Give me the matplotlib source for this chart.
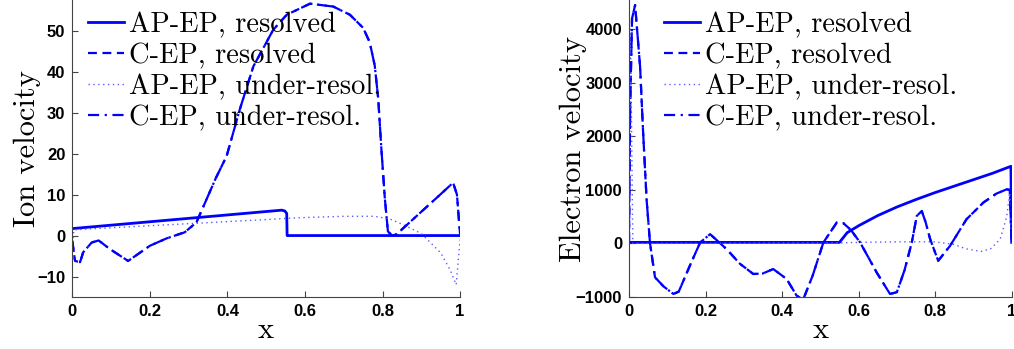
import numpy as np
import matplotlib.pyplot as plt

# ion velocity (left panel)
x_ion_ap_res = [0, 0.54, 0.548, 0.553, 0.554, 1.0]
y_ion_ap_res = [1.7, 6.2, 6.0, 5.4, 0, 0]

x_ion_ap_under = [0, 0.004, 0.1, 0.2, 0.3, 0.4, 0.5, 0.555, 0.6, 0.7, 0.78, 0.82, 0.85,
                  0.9, 0.95, 0.975, 0.99, 1.0]
y_ion_ap_under = [-3, 1.4, 1.9, 2.4, 2.9, 3.4, 3.9, 4.2, 4.4, 4.7, 4.7, 4.0, 2.8,
                  0.5, -4.2, -8.5, -12, -1]

x_ion_c = [0, 0.007, 0.02, 0.028, 0.05, 0.068, 0.097, 0.144, 0.2, 0.243, 0.29, 0.32, 0.346,
           0.37, 0.398, 0.432, 0.467, 0.518, 0.553, 0.613, 0.673, 0.716, 0.75, 0.767,
           0.78, 0.789, 0.797, 0.806, 0.814, 0.825, 0.836, 0.9, 0.95, 0.982, 0.992, 1.0]
y_ion_c_res = [-1.3, -6.2, -6.5, -4.1, -1.7, -1.2, -3.3, -6.2, -2.5, -0.7, 0.8, 3.2, 8.8,
               14, 19.4, 30.8, 41.3, 50.2, 53.9, 56.6, 55.9, 53.9, 50.7, 47.2,
               41.5, 33.4, 21.3, 9.1, 1, 0, 0.3, 5.8, 10.1, 12.9, 10, 0.3]
y_ion_c_under = y_ion_c_res

# electron velocity (right panel)
x_el_ap_res = [0, 0.55, 0.57, 0.6, 0.65, 0.7, 0.75, 0.8, 0.85, 0.9, 0.95, 0.998, 1.0]
y_el_ap_res = [20, 20, 200, 330, 520, 680, 820, 950, 1070, 1190, 1310, 1440, 20]

x_el_ap_under = [0, 0.004, 0.01, 0.05, 0.55, 0.6, 0.7, 0.8, 0.85, 0.88, 0.92, 0.945,
                 0.97, 0.987, 0.995, 1.0]
y_el_ap_under = [0, 4000, 0, 0, 10, 20, 30, 30, -20, -100, -150, -100,
                 80, 500, 950, 0]

x_el_c = [0, 0.003, 0.008, 0.016, 0.029, 0.037, 0.046, 0.055, 0.068, 0.09, 0.116, 0.13,
          0.16, 0.186, 0.212, 0.255, 0.29, 0.325, 0.35, 0.377, 0.412, 0.438, 0.455,
          0.48, 0.508, 0.543, 0.56, 0.58, 0.604, 0.647, 0.682, 0.7, 0.72, 0.739, 0.752,
          0.765, 0.775, 0.787, 0.808, 0.839, 0.882, 0.926, 0.96, 0.987, 0.995, 1.0]
y_el_c_res = [0, 2500, 4200, 4450, 3303, 2065, 824, 0, -632, -800, -943, -900,
              -400, 18, 173, -106, -380, -571, -560, -478, -664, -974, -1050,
              -600, 18, 390, 380, 250, 18, -539, -943, -911, -500, 18, 513,
              606, 400, 80, -324, -45, 452, 763, 930, 1010, 1000, 0]
y_el_c_under = y_el_c_res

labels = ['AP-EP, resolved', 'C-EP, resolved', 'AP-EP, under-resol.', 'C-EP, under-resol.']

fig = plt.figure(figsize=(10.14, 3.49), dpi=100)
ax1 = fig.add_axes([0.0713, 0.149, 0.3824, 0.851])
ax2 = fig.add_axes([0.6203, 0.149, 0.3774, 0.851])

tick_font = dict(fontweight='bold', family='Liberation Sans', fontsize=12)


def draw(ax, xa, ya, xau, yau, xc, ycr, ycu):
    ax.plot(xa, ya, color='blue', lw=2, label=labels[0])
    ax.plot(xc, ycr, color='blue', lw=1.6, ls=(0, (4, 2.5)), label=labels[1])
    ax.plot(xau, yau, color='#5a5aff', lw=1, ls=(0, (1, 2.5)), label=labels[2])
    ax.plot(xc, ycu, color='blue', lw=1.6, ls=(0, (5, 2.5, 1, 2.5)), label=labels[3])
    for s in ['top', 'right']:
        ax.spines[s].set_visible(False)
    for s in ['left', 'bottom']:
        ax.spines[s].set_color('#444444')
    ax.tick_params(direction='in', length=4, color='#444444', pad=5)
    ax.set_xlim(0, 1)
    ax.set_xticks([0, 0.2, 0.4, 0.6, 0.8, 1])
    ax.set_xticklabels(['0', '0.2', '0.4', '0.6', '0.8', '1'], **tick_font)
    ax.set_xlabel('x', family='cmr10', fontsize=22, labelpad=-2)


draw(ax1, x_ion_ap_res, y_ion_ap_res, x_ion_ap_under, y_ion_ap_under,
     x_ion_c, y_ion_c_res, y_ion_c_under)
ax1.set_ylim(-15, 57.5)
ax1.set_yticks([-10, 0, 10, 20, 30, 40, 50])
ax1.set_yticklabels(['\u221210', '0', '10', '20', '30', '40', '50'], **tick_font)
ax1.set_ylabel('Ion velocity', family='cmr10', fontsize=22, labelpad=-3)
ax1.legend(loc='upper left', bbox_to_anchor=(88 / 1014, 1 - 12 / 349),
           bbox_transform=fig.transFigure, frameon=False, borderpad=0,
           borderaxespad=0, handlelength=1.25, handletextpad=0.2, labelspacing=0.16,
           prop={'family': 'cmr10', 'size': 20.5})

draw(ax2, x_el_ap_res, y_el_ap_res, x_el_ap_under, y_el_ap_under,
     x_el_c, y_el_c_res, y_el_c_under)
ax2.set_ylim(-1000, 4545)
ax2.set_yticks([-1000, 0, 1000, 2000, 3000, 4000])
ax2.set_yticklabels(['\u22121000', '0', '1000', '2000', '3000', '4000'], **tick_font)
ax2.set_ylabel('Electron velocity', family='cmr10', fontsize=22, labelpad=-8)
ax2.legend(loc='upper left', bbox_to_anchor=(664 / 1014, 1 - 12 / 349),
           bbox_transform=fig.transFigure, frameon=False, borderpad=0,
           borderaxespad=0, handlelength=1.25, handletextpad=0.2, labelspacing=0.16,
           prop={'family': 'cmr10', 'size': 20.5})

plt.savefig('out.png', dpi=100)
